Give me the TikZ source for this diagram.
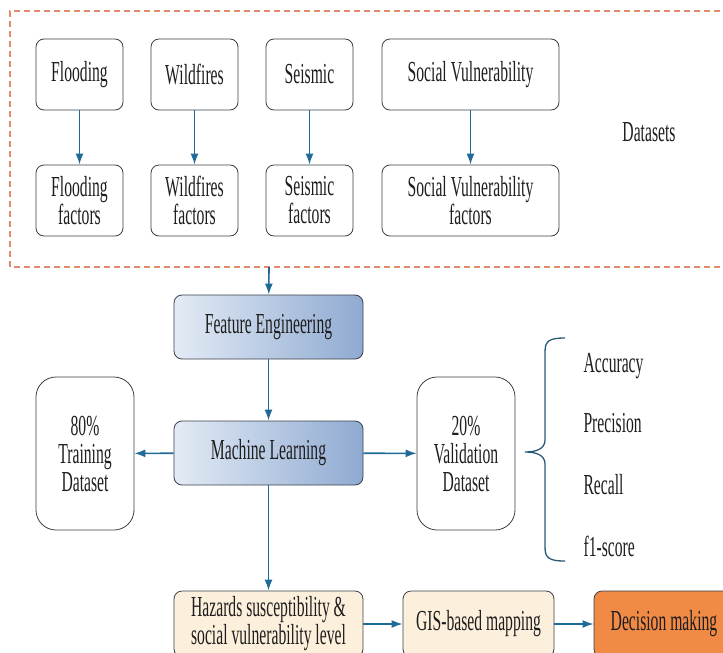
\documentclass[tikz,border=0pt]{standalone}
\usepackage{fontspec}
\setmainfont{Liberation Serif}[FakeStretch=0.54]
\usepackage{tikz}
\usetikzlibrary{arrows.meta, positioning, calc}
\usepackage{xcolor}
\definecolor{arrowblue}{HTML}{1F6A96}
\definecolor{boxline}{HTML}{3A4048}
\definecolor{dashorange}{HTML}{E48A6E}
\definecolor{feblue}{HTML}{8FAAD2}
\definecolor{felight}{HTML}{E3EBF5}
\definecolor{beige}{HTML}{FCF0DC}
\definecolor{decorange}{HTML}{F08A45}
\definecolor{txt}{HTML}{1E1E1E}
\tikzset{
  databox/.style={draw=boxline, thick, rounded corners=8pt, fill=white,
                 minimum height=71pt, align=center, text=txt},
  bigbox/.style={draw=boxline, thick, rounded corners=20pt, fill=white,
                 minimum width=98pt, minimum height=153pt, align=center, text=txt},
  bluebox/.style={draw=boxline, thick, rounded corners=8pt,
                 left color=felight, right color=feblue,
                 minimum width=189pt, minimum height=64pt, text=txt},
  beigebox/.style={draw=boxline, thick, rounded corners=8pt, fill=beige,
                 minimum height=66pt, align=center, text=txt},
  metric/.style={anchor=west, text=txt},
  flow/.style={arrowblue, line width=1.6pt, -{Latex[length=11pt, width=8pt]}},
}

\begin{document}
\begin{tikzpicture}[x=1pt, y=-1pt, font=\fontsize{29}{28}\selectfont]
    \useasboundingbox (0,0) rectangle (723,653);
    % Datasets frame
    \draw[dashorange, line width=1.3pt, dash pattern=on 6pt off 4pt]
      (730,11) -- (10,11) -- (10,267) -- (730,267);
    \coordinate (frame) at (269,267);
    \node[text=txt] (datasets) at (649,132) {Datasets};
    % Hazards
    \node[databox, minimum width=87pt]  (flood) at (79.5,74.5)  {Flooding};
    \node[databox, minimum width=87pt]  (fire)  at (194.5,74.5) {Wildfires};
    \node[databox, minimum width=87pt]  (seis)  at (309.5,74.5) {Seismic};
    \node[databox, minimum width=177pt] (svi)   at (470.5,74.5) {Social Vulnerability};
    \node[databox, minimum width=87pt]  (floodf) at (79.5,200.5)  {Flooding\\factors};
    \node[databox, minimum width=87pt]  (firef)  at (194.5,200.5) {Wildfires\\factors};
    \node[databox, minimum width=87pt]  (seisf)  at (309.5,200.5) {Seismic\\factors};
    \node[databox, minimum width=177pt] (svif)   at (470.5,200.5) {Social Vulnerability\\factors};
    \draw[flow] (flood) -- (floodf);
    \draw[flow] (fire) -- (firef);
    \draw[flow] (seis) -- (seisf);
    \draw[flow] (svi) -- (svif);
    % Model
    \node[bluebox] (fe) at (268.5,327) {Feature Engineering};
    \node[bluebox] (ml) at (268.5,453) {Machine Learning};
    \node[bigbox] (train) at (85,453.5)  {80\%\\Training\\Dataset};
    \node[bigbox] (valid) at (466,453.5) {20\%\\Validation\\Dataset};
    \draw[flow] (frame) -- (fe);
    \draw[flow] (fe) -- (ml);
    \draw[flow] (ml) -- (train);
    \draw[flow] (ml) -- (valid);
    % Metrics
    \coordinate (btop) at (565,338);
    \coordinate (bbot) at (565,561);
    \draw[arrowblue!60!boxline, line width=1.3pt]
      (btop) .. controls (549,338) and (545,341) .. (545,352) -- (545,440)
      .. controls (545,449) and (536,452) .. (525,452)
      .. controls (536,452) and (545,455) .. (545,464) -- (545,547)
      .. controls (545,558) and (549,561) .. (bbot);
    \node[metric] (acc)  at (580,366) {Accuracy};
    \node[metric] (prec) at (580,423) {Precision};
    \node[metric] (rec)  at (580,485) {Recall};
    \node[metric] (f1)   at (580,546) {f1-score};
    % Output
    \node[beigebox, minimum width=189pt] (haz) at (268.5,624)
      {Hazards susceptibility \&\\social vulnerability level};
    \node[beigebox, minimum width=151pt] (gis) at (478.5,624) {GIS-based mapping};
    \node[beigebox, fill=decorange, minimum width=140pt] (dec) at (664,624) {Decision making};
    \draw[flow] (ml) -- (haz);
    \draw[flow] (haz) -- (gis);
    \draw[flow] (gis) -- (dec);
  \end{tikzpicture}
\end{document}
